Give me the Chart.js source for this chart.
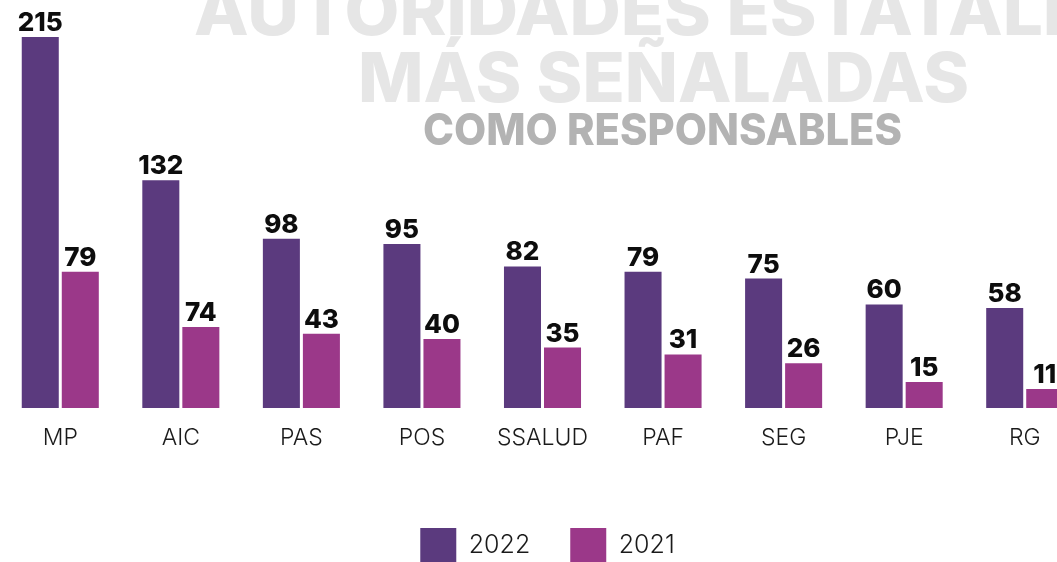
<!DOCTYPE html>
<html>
<head>
<meta charset="utf-8">
<script src="https://cdn.jsdelivr.net/npm/chart.js@4/dist/chart.umd.min.js"></script>
<style>
  html, body { margin: 0; padding: 0; background: #ffffff; overflow: hidden; }
  #wrap { position: relative; width: 1085px; height: 600px; }
</style>
</head>
<body>
<div id="wrap"><canvas id="c"></canvas></div>
<script>
const categories = ['MP', 'AIC', 'PAS', 'POS', 'SSALUD', 'PAF', 'SEG', 'PJE', 'RG'];
const values2022 = [215, 132, 98, 95, 82, 79, 75, 60, 58];
// bar heights as drawn in the reference (AIC 2021 bar is drawn at ~47)
const values2021 = [79, 47, 43, 40, 35, 31, 26, 15, 11];
// value labels as printed in the reference
const printed2022 = ['215', '132', '98', '95', '82', '79', '75', '60', '58'];
const printed2021 = ['79', '74', '43', '40', '35', '31', '26', '15', '11'];
const seriesLabels = ['2022', '2021'];
const titleLines = ['AUTORIDADES ESTATALES', 'MÁS SEÑALADAS', 'COMO RESPONSABLES'];

const COLOR_2022 = '#5b3a7e';
const COLOR_2021 = '#9b3889';
const printedLabels = [printed2022, printed2021];

const backgroundTitle = {
  id: 'backgroundTitle',
  beforeDraw(chart) {
    const ctx = chart.ctx;
    const specs = [
      { text: titleLines[0], cx: 663.5, w: 939, base: 35, size: 69, color: '#e6e6e6' },
      { text: titleLines[1], cx: 663.5, w: 611, base: 102, size: 69, color: '#e6e6e6' },
      { text: titleLines[2], cx: 662.5, w: 479, base: 145, size: 44, color: '#b3b3b3' }
    ];
    ctx.save();
    specs.forEach(s => {
      ctx.font = '800 ' + s.size + 'px Inter';
      const mw = ctx.measureText(s.text).width;
      ctx.save();
      ctx.translate(s.cx, s.base);
      ctx.scale(s.w / mw, 1);
      ctx.fillStyle = s.color;
      ctx.textAlign = 'center';
      ctx.textBaseline = 'alphabetic';
      ctx.fillText(s.text, 0, 0);
      ctx.restore();
    });
    ctx.restore();
  }
};

const valueLabels = {
  id: 'valueLabels',
  afterDatasetsDraw(chart) {
    const ctx = chart.ctx;
    ctx.save();
    ctx.font = '800 26px Inter';
    ctx.fillStyle = '#0d0d0d';
    ctx.textAlign = 'center';
    ctx.textBaseline = 'alphabetic';
    chart.data.datasets.forEach((ds, di) => {
      const meta = chart.getDatasetMeta(di);
      meta.data.forEach((bar, i) => {
        ctx.fillText(printedLabels[di][i], bar.x, bar.y - 6);
      });
    });
    ctx.restore();
  }
};

const legendShift = {
  id: 'legendShift',
  afterLayout(chart) {
    if (chart.legend) { chart.legend.left += 5; chart.legend.right += 5; }
  }
};

new Chart(document.getElementById('c'), {
  type: 'bar',
  data: {
    labels: categories,
    datasets: [
      { label: seriesLabels[0], data: values2022, backgroundColor: COLOR_2022, borderWidth: 0 },
      { label: seriesLabels[1], data: values2021, backgroundColor: COLOR_2021, borderWidth: 0 }
    ]
  },
  options: {
    responsive: true,
    maintainAspectRatio: false,
    animation: false,
    layout: { padding: { top: 0, left: 0, right: 0, bottom: 28 } },
    datasets: { bar: { categoryPercentage: 0.664, barPercentage: 0.925 } },
    scales: {
      x: {
        grid: { display: false, drawTicks: false },
        border: { display: false },
        ticks: {
          color: '#1a1a1a',
          font: { family: 'Inter', size: 23, weight: '300' },
          padding: 16,
          maxRotation: 0
        },
        afterFit(scale) { scale.height = 80; }
      },
      y: {
        display: false,
        min: 0,
        max: 236.4
      }
    },
    plugins: {
      legend: {
        position: 'bottom',
        labels: {
          boxWidth: 36,
          boxHeight: 34,
          padding: 40,
          color: '#1a1a1a',
          font: { family: 'Inter', size: 25, weight: '300' }
        }
      },
      tooltip: { enabled: false }
    }
  },
  plugins: [backgroundTitle, valueLabels, legendShift]
});
</script>
</body>
</html>
